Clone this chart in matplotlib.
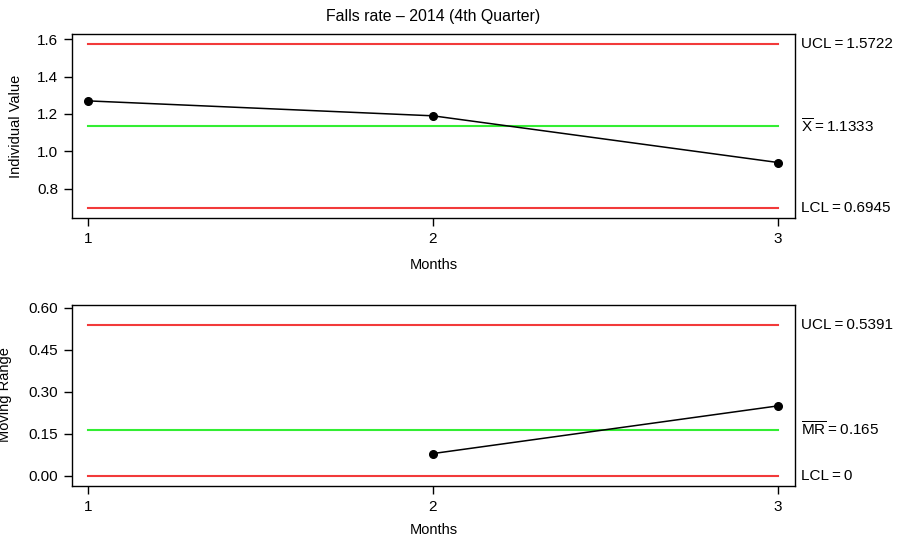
import matplotlib
matplotlib.use("Agg")
import matplotlib.pyplot as plt
import numpy as np

plt.rcParams['font.family'] = ['Liberation Sans', 'DejaVu Sans']
plt.rcParams['mathtext.fontset'] = 'custom'
plt.rcParams['mathtext.rm'] = 'Liberation Sans'
plt.rcParams['mathtext.it'] = 'Liberation Sans:italic'

# Data
months = [1, 2, 3]
individual_values = [1.27, 1.19, 0.94]
mr_months = [2, 3]
moving_ranges = [0.08, 0.25]

i_ucl, i_center, i_lcl = 1.5722, 1.1333, 0.6945
mr_ucl, mr_center, mr_lcl = 0.5391, 0.165, 0.0

i_yticks = [0.8, 1.0, 1.2, 1.4, 1.6]
mr_yticks = [0.00, 0.15, 0.30, 0.45, 0.60]
mr_yticklabels = ['0.00', '0.15', '0.30', '0.45', '0.60']

title = 'Falls rate \u2013 2014 (4th Quarter)'

RED = '#F23A3A'
GREEN = '#33EE33'
W, H = 902, 539
fig = plt.figure(figsize=(W / 100, H / 100), dpi=100)

def px_axes(x0, y0, x1, y1):
    return fig.add_axes([x0 / W, 1 - y1 / H, (x1 - x0) / W, (y1 - y0) / H])

def ftext(x, y, s, **kw):
    fig.text(x / W, 1 - y / H, s, **kw)

ax1 = px_axes(72, 34, 795, 218)
ax2 = px_axes(72, 305, 795, 486)

fs_tick = 11
fs_lab = 10.5
fs_title = 11.4
fs_right = 11
th = '\u2009'

def style(ax):
    for s in ax.spines.values():
        s.set_linewidth(1.0)
        s.set_color('black')
    ax.tick_params(direction='out', length=6, width=1.0, labelsize=fs_tick, pad=4)
    ax.set_xticks(months)
    ax.set_xticklabels([str(m) for m in months])
    ax.set_xlim(0.954, 3.049)

# Top chart
for y, c in [(i_ucl, RED), (i_center, GREEN), (i_lcl, RED)]:
    ax1.plot([months[0], months[-1]], [y, y], color=c, lw=1.5, zorder=2)
ax1.plot(months, individual_values, color='black', lw=1.1, marker='o', ms=5.5, zorder=3)
style(ax1)
ax1.set_ylim(0.643, 1.628)
ax1.set_yticks(i_yticks)
ax1.set_yticklabels([f'{v:.1f}' for v in i_yticks])

ftext(433.5, 17, title, ha='center', va='center', fontsize=fs_title)
ftext(433.5, 265, 'Months', ha='center', va='center', fontsize=fs_lab)
ftext(16.5, 126, 'Individual Value', ha='center', va='center', rotation=90, fontsize=fs_lab)

lx = 801
def rlabel(ax, y, txt):
    ax.annotate(txt, xy=(1, y), xycoords=('axes fraction', 'data'),
                xytext=(lx - 795, 0), textcoords='offset pixels',
                ha='left', va='center', fontsize=fs_right, annotation_clip=False)

rlabel(ax1, i_ucl, f'UCL{th}={th}{i_ucl:.4f}')
rlabel(ax1, i_center, r'$\overline{\mathrm{X}}$' + f'{th}={th}{i_center:.4f}')
rlabel(ax1, i_lcl, f'LCL{th}={th}{i_lcl:.4f}')

# Bottom chart
for y, c in [(mr_ucl, RED), (mr_center, GREEN), (mr_lcl, RED)]:
    ax2.plot([months[0], months[-1]], [y, y], color=c, lw=1.5, zorder=2)
ax2.plot(mr_months, moving_ranges, color='black', lw=1.1, marker='o', ms=5.5, zorder=3)
style(ax2)
ax2.set_ylim(-0.0357, 0.6096)
ax2.set_yticks(mr_yticks)
ax2.set_yticklabels(mr_yticklabels)

ftext(433.5, 530, 'Months', ha='center', va='center', fontsize=fs_lab)
ftext(5, 395, 'Moving Range', ha='center', va='center', rotation=90, fontsize=fs_lab)

rlabel(ax2, mr_ucl, f'UCL{th}={th}{mr_ucl:.4f}')
rlabel(ax2, mr_center, r'$\overline{\mathrm{MR}}$' + f'{th}={th}{mr_center:.3f}')
rlabel(ax2, mr_lcl, f'LCL{th}={th}0')

fig.savefig('out.png', dpi=100)
